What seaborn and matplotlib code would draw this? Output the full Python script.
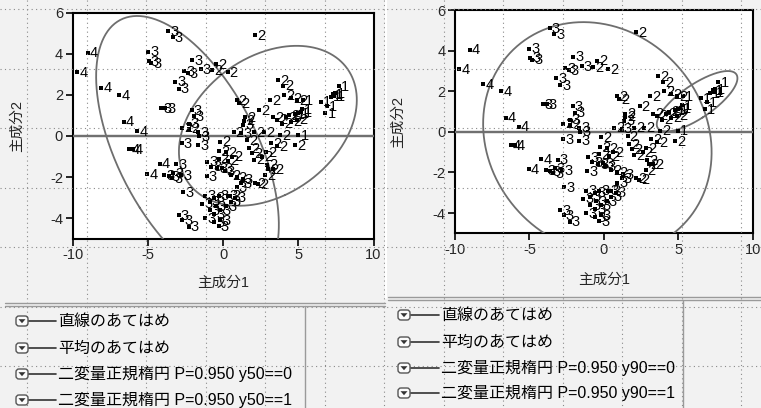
import numpy as np
import pandas as pd
import matplotlib
matplotlib.use("Agg")
import matplotlib.pyplot as plt
import seaborn as sns
from matplotlib.patches import FancyBboxPatch, Polygon

# ---------------- data (principal component scores, class label) ----------------
g1_pc1 = [7.7, 7.15, 7.3, 7.4, 7.45, 6.5, 6.9, 6.8, 5.3, 5.0, 5.2, 4.75, 5.0, 5.25]
g1_pc2 = [2.44, 1.92, 2.05, 1.95, 2.1, 1.67, 1.45, 1.1, 1.75, 1.1, 1.15, 1.05, 0.05, 1.3]

g2_pc1 = [2.15, -0.45, -0.75, 0.3, 3.65, 4.0, 0.9, 1.05, 3.1, 4.05, 4.5, 4.9, 2.4, 3.3,
          3.6, 3.9, 4.2, 4.5, 4.9, 4.4, 1.45, 1.4, 0.7, 2.05, 2.7, 3.8, 1.6, 3.2, 3.6,
          4.8, 1.7, 1.9, 2.05, 2.9, 3.0, 3.3, 2.8, 2.6, 2.85, -0.2, -0.25, 0.2, -0.3,
          0.35, 0.6, 0.5, 0.9, 2.15, 2.35, -2.75, -2.25, 0.45]
g2_pc2 = [4.9, 3.5, 3.2, 3.1, 2.73, 2.45, 1.75, 1.6, 1.76, 2.0, 1.85, 1.75, 1.25, 0.9,
          0.8, 0.6, 0.9, 0.7, 0.8, 1.0, 0.9, 0.75, 0.2, 0.2, 0.2, 0.05, -0.2, -0.35, -0.5,
          -0.45, -0.6, -0.85, -1.15, -1.4, -1.6, -1.6, -1.9, -1.0, -0.8, -0.28, -0.75, -0.8, -1.1,
          -1.2, -1.0, -1.9, -2.0, -2.3, -2.35, 0.4, 0.35, -2.9]

g3_pc1 = [-3.65, -3.35, -5.0, -4.95, -4.8, -2.05, -1.5, -2.6, -2.35, -3.2, -2.95, -4.1,
          -3.85, -2.1, -1.95, -2.3, -1.65, -1.6, 1.35, 1.2, -2.75, -1.65, -3.1, -3.9, -3.6,
          -3.4, -3.3, -2.8, -1.05, -0.4, -0.05, 0.1, -1.1, -0.8, -2.65, 1.2, 0.9, 1.3, -1.2,
          -0.6, -0.3, -0.9, -0.5, -1.4, -0.9, -0.6, -0.2, 0.3, 0.5, 0.8, -2.95, -2.7, -2.3,
          -1.2, -0.6, -0.3, -0.2, 0.2]
g3_pc2 = [5.1, 4.8, 4.1, 3.65, 3.55, 3.7, 3.25, 3.15, 3.05, 2.65, 2.3, 1.35,
          1.35, 1.25, 0.95, 0.6, 0.2, 0.0, 0.55, 0.15, -0.36, -0.44, -1.37, -1.9, -1.95,
          -2.05, -1.8, -1.9, -1.25, -1.58, -1.55, -1.7, -1.95, -1.5, -2.72, -2.3, -2.5, -2.1, -2.9,
          -3.0, -2.9, -3.2, -3.4, -3.3, -3.6, -3.8, -3.6, -2.9, -3.2, -3.0, -3.85, -4.1, -4.42,
          -4.0, -4.2, -4.4, -4.1, -3.4]

g4_pc1 = [-9.0, -9.7, -8.1, -6.9, -6.6, -5.7, -6.25, -6.0, -4.2, -5.05]
g4_pc2 = [4.05, 3.1, 2.35, 2.0, 0.7, 0.25, -0.65, -0.65, -1.35, -1.85]

# fitted lines (PC scores are centred and uncorrelated,
# so both the linear fit and the mean fit lie on PC2 = 0)
linear_fit_slope = 0.0
linear_fit_intercept = 0.0
mean_fit_value = 0.0

x_label = "主成分1"
y_label = "主成分2"
x_ticks = [-10, -5, 0, 5, 10]
y_ticks = [-4, -2, 0, 2, 4, 6]
legend_left = ["直線のあてはめ", "平均のあてはめ",
               "二変量正規楕円 P=0.950 y50==0", "二変量正規楕円 P=0.950 y50==1"]
legend_right = ["直線のあてはめ", "平均のあてはめ",
                "二変量正規楕円 P=0.950 y90==0", "二変量正規楕円 P=0.950 y90==1"]
ellipse_p = 0.95

df = pd.concat([
    pd.DataFrame({"pc1": g1_pc1, "pc2": g1_pc2, "cls": 1}),
    pd.DataFrame({"pc1": g2_pc1, "pc2": g2_pc2, "cls": 2}),
    pd.DataFrame({"pc1": g3_pc1, "pc2": g3_pc2, "cls": 3}),
    pd.DataFrame({"pc1": g4_pc1, "pc2": g4_pc2, "cls": 4}),
], ignore_index=True)
df["y50"] = (df["cls"] <= 2).astype(int)
df["y90"] = (df["cls"] == 1).astype(int)

# ---------------- style ----------------
sns.set_style("white")
plt.rcParams["font.family"] = ["Liberation Sans", "Noto Sans CJK JP", "DejaVu Sans"]
plt.rcParams["axes.unicode_minus"] = False

W, H = 761, 408
BG = "#f2f2f2"
fig = plt.figure(figsize=(W / 100, H / 100), dpi=100, facecolor=BG)


def px_axes(x0, y0, x1, y1):
    return fig.add_axes([x0 / W, 1 - y1 / H, (x1 - x0) / W, (y1 - y0) / H])


def ellipse_xy(x, y, p, n=400):
    x = np.asarray(x, float)
    y = np.asarray(y, float)
    mu = np.array([x.mean(), y.mean()])
    cov = np.cov(x, y)
    vals, vecs = np.linalg.eigh(cov)
    r = np.sqrt(-2 * np.log(1 - p))
    t = np.linspace(0, 2 * np.pi, n)
    circ = np.vstack([np.cos(t), np.sin(t)])
    pts = mu[:, None] + r * (vecs @ (np.sqrt(vals)[:, None] * circ))
    return pts[0], pts[1]


def draw_panel(ax, group_col):
    ax.set_facecolor("white")
    sns.scatterplot(data=df, x="pc1", y="pc2", ax=ax, color="black", marker="s",
                    s=5, linewidth=0, legend=False, zorder=4)
    for px, py, c in zip(df["pc1"], df["pc2"], df["cls"]):
        ax.annotate(str(c), (px, py), xytext=(1.5, -0.5), textcoords="offset points",
                    ha="left", va="center", fontsize=10.5, color="black", zorder=5,
                    annotation_clip=True)
    # linear fit and mean fit
    xs = np.array([-10.0, 10.0])
    ax.plot(xs, linear_fit_slope * xs + linear_fit_intercept, color="#707070", lw=1.6, zorder=3)
    ax.plot(xs, np.full(2, mean_fit_value), color="#707070", lw=1.6, zorder=3)
    # bivariate normal ellipses
    for g in (0, 1):
        sub = df[df[group_col] == g]
        ex, ey = ellipse_xy(sub["pc1"], sub["pc2"], ellipse_p)
        ax.plot(ex, ey, color="#6e6e6e", lw=1.3, zorder=3)
    ax.set_xlim(-10, 10)
    ax.set_ylim(-5, 6)
    ax.set_xticks(x_ticks)
    ax.set_yticks(y_ticks)
    ax.set_xticks(np.arange(-7.5, 10, 5), minor=True)
    ax.set_yticks([-5, -3, -1, 1, 3, 5], minor=True)
    ax.tick_params(which="major", direction="out", length=5, width=1.2,
                   labelsize=10.5, color="black", pad=2)
    ax.tick_params(which="minor", direction="out", length=3, width=1.0, color="black")
    ax.tick_params(left=True, bottom=True)
    for s in ax.spines.values():
        s.set_color("black")
        s.set_linewidth(1.5)
        s.set_visible(True)
    ax.set_xlabel(x_label, fontsize=10.5)
    ax.set_ylabel(y_label, fontsize=10.5)
    ax.xaxis.label.set_va("center")
    ax.yaxis.label.set_va("center")


axL = px_axes(72.7, 12.7, 373.5, 238.7)
draw_panel(axL, "y50")
axL.xaxis.set_label_coords(0.5, -(283 - 238.7) / 226)
axL.yaxis.set_label_coords((17 - 72.7) / 300.8, 0.5)

axR = px_axes(455, 10, 752.7, 233.3)
draw_panel(axR, "y90")
axR.xaxis.set_label_coords(0.5, -(280 - 233.3) / 223.3)
axR.yaxis.set_label_coords((398 - 455) / 297.7, 0.5)

# ---------------- overlay (window decoration, legends) ----------------
ov = fig.add_axes([0, 0, 1, 1], facecolor="none")
ov.set_xlim(0, W)
ov.set_ylim(H, 0)
ov.axis("off")

grid_step = 59.5
for gx in np.arange(27, W, grid_step):
    ov.plot([gx, gx], [0, H], color="#8a8a8a", lw=0.8, ls=(0, (1, 3)), zorder=1)
for gy in np.arange(9, H, grid_step):
    ov.plot([0, W], [gy, gy], color="#8a8a8a", lw=0.8, ls=(0, (1, 3)), zorder=1)

# panel divider
ov.plot([386, 386], [0, 298], color="white", lw=1.5, zorder=2)

# legend boxes
ov.plot([5, 385], [303, 303], color="#9a9a9a", lw=1.0, zorder=3)
ov.plot([5, 385], [306, 306], color="#9a9a9a", lw=1.0, zorder=3)
ov.plot([305, 305], [306, H], color="#9a9a9a", lw=1.0, zorder=3)
ov.plot([388, W], [297, 297], color="#9a9a9a", lw=1.0, zorder=3)
ov.plot([388, W], [300, 300], color="#9a9a9a", lw=1.0, zorder=3)
ov.plot([683, 683], [300, H], color="#9a9a9a", lw=1.0, zorder=3)


def legend_rows(items, x_icon, ys, x_text):
    for txt, yy in zip(items, ys):
        box = FancyBboxPatch((x_icon - 6, yy - 5), 12, 10,
                             boxstyle="round,pad=0,rounding_size=3",
                             fc="#fbfbfb", ec="#555555", lw=1.0, zorder=4)
        ov.add_patch(box)
        tri = Polygon([[x_icon - 3.5, yy - 1.8], [x_icon + 3.5, yy - 1.8], [x_icon, yy + 2.2]],
                      closed=True, fc="#333333", ec="none", zorder=5)
        ov.add_patch(tri)
        ov.plot([x_icon + 7, x_text - 2], [yy, yy], color="#333333", lw=1.2, zorder=4)
        ov.text(x_text, yy, txt, ha="left", va="center", fontsize=11.5,
                color="black", zorder=5)


legend_rows(legend_left, 22, [321, 348, 374, 400], 58)
legend_rows(legend_right, 404, [315, 342, 368, 393], 441)

fig.savefig("out.png", dpi=100, facecolor=BG)
